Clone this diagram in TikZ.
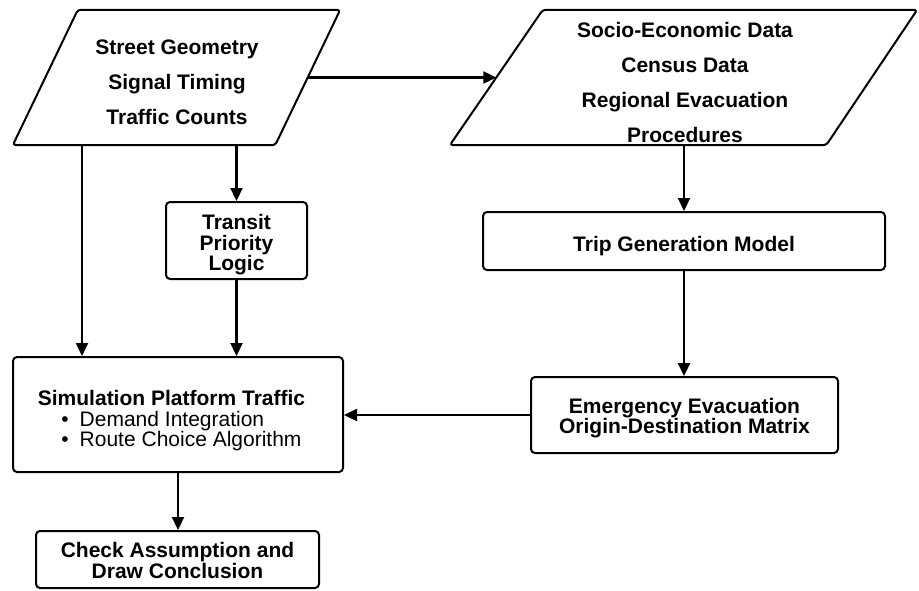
\documentclass[tikz,border=0pt]{standalone}
\usepackage{fontspec}
\setmainfont{Liberation Sans}
\usetikzlibrary{arrows.meta}
\begin{document}
\begin{tikzpicture}[x=1pt,y=-1pt,
 box/.style={draw,line width=2pt,rounded corners=4pt,inner sep=0pt},
 btxt/.style={inner sep=0pt,align=center,font=\bfseries\fontsize{21}{20.5}\selectfont},
 pframe/.style={inner sep=0pt},
 pline/.style={line width=2pt,rounded corners=3pt,line join=round},
 ptxt/.style={align=center,font=\bfseries\fontsize{21}{35}\selectfont,inner sep=0pt},
 arr/.style={line width=2.2pt,-{Triangle[length=13pt,width=12pt]}}]
\useasboundingbox (0,0) rectangle (919,590);

\node[pframe,minimum width=327pt,minimum height=135pt] (p1) at (176.5,77.5) {};
\draw[pline] ([xshift=65pt]p1.north west) -- (p1.north east) -- ([xshift=-65pt]p1.south east) -- (p1.south west) -- cycle;
\node[ptxt] (p1t) at (177,82) {Street Geometry\\Signal Timing\\Traffic Counts};
\node[pframe,minimum width=467pt,minimum height=135pt] (p2) at (683.5,77.5) {};
\draw[pline] ([xshift=93pt]p2.north west) -- (p2.north east) -- ([xshift=-91pt]p2.south east) -- (p2.south west) -- cycle;
\node[ptxt] (p2t) at (685,82.5) {Socio-Economic Data\\Census Data\\Regional Evacuation\\Procedures};

\node[box,minimum width=141pt,minimum height=77pt] (tpl) at (236.5,240.5) {};
\node[btxt] (tplt) at (236.5,245) {Transit\\Priority\\Logic};
\node[box,minimum width=402pt,minimum height=58pt] (trip) at (684,241) {};
\node[btxt] (tript) at (684,246) {Trip Generation Model};
\node[box,minimum width=307pt,minimum height=76pt] (emer) at (684.5,415) {};
\node[btxt] (emert) at (684.5,418) {Emergency Evacuation\\Origin-Destination Matrix};
\node[box,minimum width=330pt,minimum height=115pt] (sim) at (178,414.5) {};
\node[btxt,align=left] (simt) at (171.5,421) {Simulation Platform Traffic\\
\mdseries\hspace*{23.5pt}\textbullet\hspace{11pt}Demand Integration\\
\mdseries\hspace*{23.5pt}\textbullet\hspace{11pt}Route Choice Algorithm};
\node[box,minimum width=283pt,minimum height=57pt] (chk) at (177.5,559.5) {};
\node[btxt] (chkt) at (177.5,560.5) {Check Assumption and\\Draw Conclusion};

\coordinate (lft) at ([xshift=70pt]sim.north west);
\draw[arr] (p1.south -| lft) -- (lft);
\draw[arr] (p1.south -| tpl.north) -- (tpl.north);
\draw[arr] (tpl.south) -- (tpl.south |- sim.north);
\draw[arr] ([xshift=-32.5pt]p1.east) -- ([xshift=46.5pt]p2.west);
\draw[arr] (p2.south -| trip.north) -- (trip.north);
\draw[arr] (trip.south) -- (trip.south |- emer.north);
\draw[arr] (emer.west) -- (emer.west -| sim.east);
\draw[arr] (sim.south) -- (sim.south |- chk.north);
\end{tikzpicture}
\end{document}
